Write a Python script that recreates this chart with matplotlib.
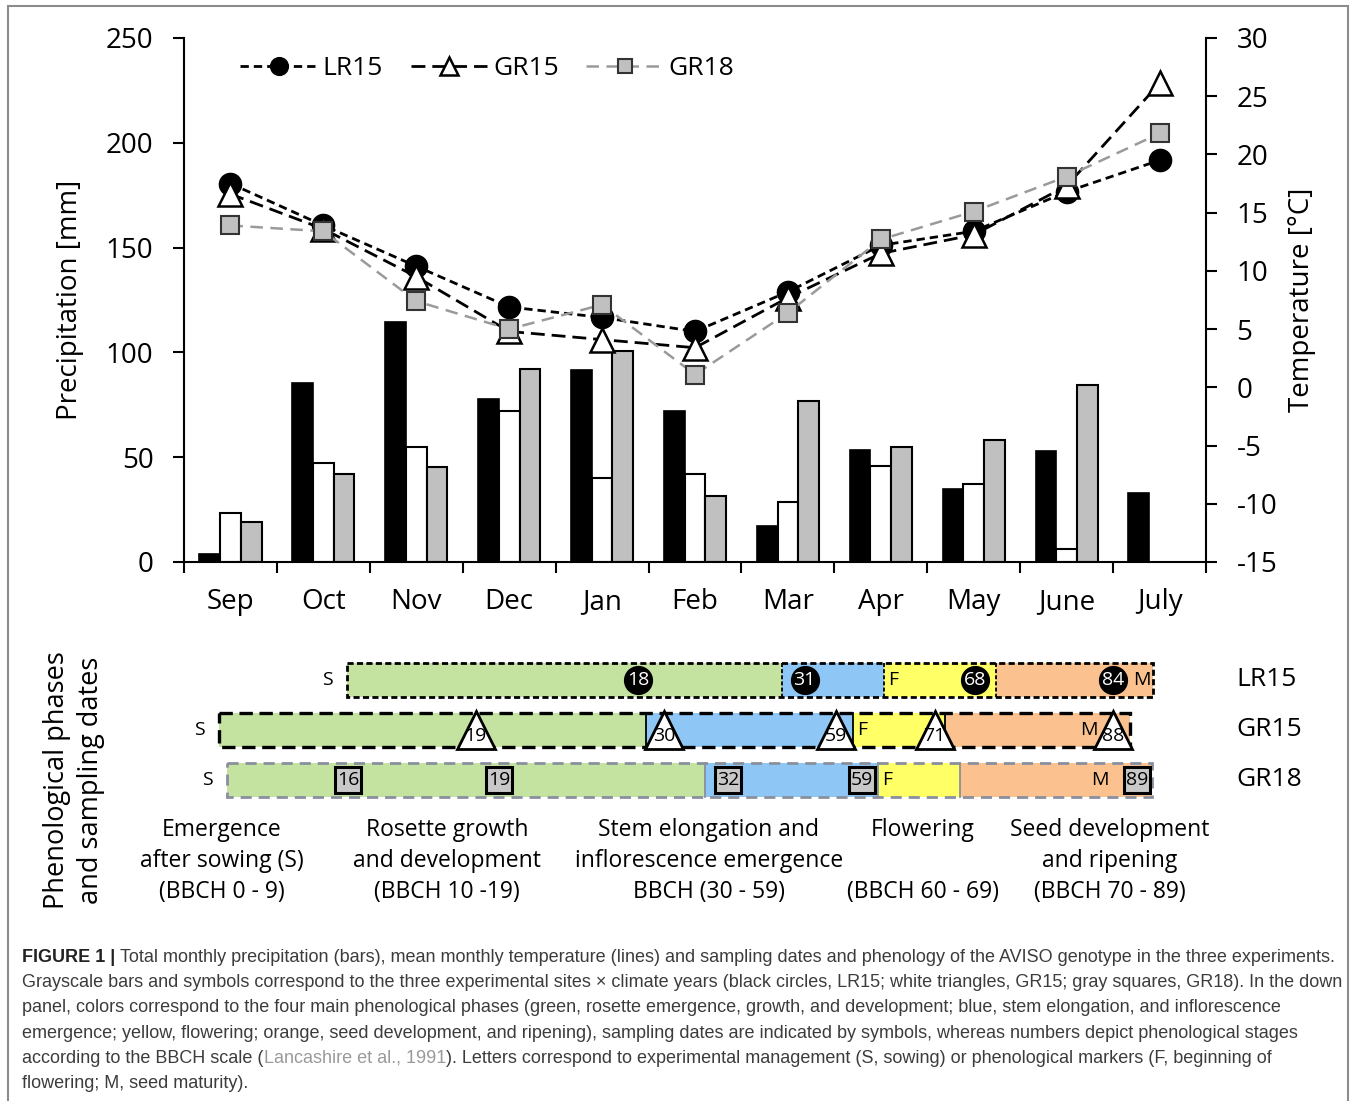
import numpy as np
import matplotlib.pyplot as plt
from matplotlib.patches import Rectangle

plt.rcParams['font.family'] = ['Open Sans', 'DejaVu Sans']
plt.rcParams['axes.unicode_minus'] = False

months = ['Sep', 'Oct', 'Nov', 'Dec', 'Jan', 'Feb', 'Mar', 'Apr', 'May', 'June', 'July']

# total monthly precipitation [mm]
prec_lr15 = [4, 85.5, 114.5, 78, 91.5, 72, 17, 53.5, 35, 53, 33]
prec_gr15 = [23.5, 47, 55, 72, 40, 42, 28.5, 46, 37, 6, np.nan]
prec_gr18 = [19, 42, 45.5, 92, 100.5, 31.5, 77, 55, 58, 84.5, np.nan]

# mean monthly temperature [°C]
temp_lr15 = [17.5, 13.9, 10.4, 6.9, 6.0, 4.8, 8.2, 12.2, 13.4, 16.8, 19.5]
temp_gr15 = [16.6, 13.6, 9.5, 4.8, 4.1, 3.4, 7.7, 11.5, 13.1, 17.3, 26.1]
temp_gr18 = [13.9, 13.4, 7.4, 5.0, 7.1, 1.1, 6.4, 12.7, 15.1, 18.1, 21.8]

# phenology, positions on the month axis
experiments = ['LR15', 'GR15', 'GR18']
# sowing, stem elongation, flowering, seed development, maturity
phase_lr15 = [1.255, 5.94, 7.03, 8.24, 9.93]
phase_gr15 = [-0.123, 4.47, 6.70, 7.69, 9.68]
phase_gr18 = [-0.037, 5.11, 6.97, 7.85, 9.92]
samples_lr15 = [4.39, 6.18, 8.01, 9.50]
samples_gr15 = [2.64, 4.67, 6.52, 7.58, 9.50]
samples_gr18 = [1.27, 2.89, 5.36, 6.80, 9.76]
bbch_lr15 = [18, 31, 68, 84]
bbch_gr15 = [19, 30, 59, 71, 88]
bbch_gr18 = [16, 19, 32, 59, 89]
maturity = [9.81, 9.24, 9.36]

phase_names = ['Emergence\nafter sowing (S)\n(BBCH 0 - 9)',
               'Rosette growth\nand development\n(BBCH 10 -19)',
               'Stem elongation and\ninflorescence emergence\nBBCH (30 - 59)',
               'Flowering\n\n(BBCH 60 - 69)',
               'Seed development\nand ripening\n(BBCH 70 - 89)']
phase_colors = ['#c4e3a1', '#8ec7f6', '#ffff66', '#fbc28f']

W, H = 1357, 1101


def fx(px):
    return px / W


def fy(py):
    return 1 - py / H


fig = plt.figure(figsize=(W / 100, H / 100), dpi=100)

# ---- climate panel ----
ax = fig.add_axes([fx(184), fy(562), fx(1206) - fx(184), fy(38) - fy(562)])
x = np.arange(len(months))
bw = 0.223
ax.bar(x - bw, prec_lr15, bw, color='black', edgecolor='black', lw=1.2, zorder=2)
ax.bar(x, prec_gr15, bw, color='white', edgecolor='black', lw=1.5, zorder=2)
ax.bar(x + bw, prec_gr18, bw, color='#c0c0c0', edgecolor='black', lw=1.5, zorder=2)

ax.set_xlim(-0.5, len(months) - 0.5)
ax.set_ylim(0, 250)
ax.set_yticks(range(0, 251, 50))
ax.set_xticks(np.arange(-0.5, len(months), 1.0))
ax.set_xticklabels([])
ax.set_xticks(x, minor=True)
ax.set_xticklabels(months, minor=True)
ax.tick_params(axis='x', which='major', direction='out', length=8, width=1.5)
ax.tick_params(axis='x', which='minor', length=0, pad=19, labelsize=20)
ax.tick_params(axis='y', direction='out', length=8, width=1.5, pad=14, labelsize=20)
ax.spines['top'].set_visible(False)
ax.spines['right'].set_visible(False)
for s in ['left', 'bottom']:
    ax.spines[s].set_linewidth(1.5)
ax.set_ylabel('Precipitation [mm]', fontsize=20, labelpad=16)

tx = ax.twinx()
tx.set_ylim(-15, 30)
tx.set_yticks(range(-15, 31, 5))
tx.tick_params(axis='y', direction='out', length=8, width=1.5, pad=14, labelsize=20)
for s in ['top', 'left', 'bottom']:
    tx.spines[s].set_visible(False)
tx.spines['right'].set_linewidth(1.5)
tx.set_ylabel('Temperature [°C]', fontsize=20, labelpad=8)

tx.plot(x, temp_lr15, color='black', lw=2, dashes=(3, 1.8), marker='o', ms=16,
        mfc='black', mec='black', label='LR15', zorder=3)
tx.plot(x, temp_gr15, color='black', lw=2, dashes=(5, 2.5), marker='^', ms=17,
        mfc='white', mec='black', mew=1.8, label='GR15', zorder=4)
tx.plot(x, temp_gr18, color='#9a9a9a', lw=1.8, dashes=(5, 3), marker='s', ms=13,
        mfc='#c0c0c0', mec='#333333', mew=1.5, label='GR18', zorder=5)
tx.legend(loc='upper left', bbox_to_anchor=(0.037, 1.0), ncol=3, frameon=False,
          fontsize=19, handlelength=2.9, handletextpad=0.22, columnspacing=1.05,
          borderaxespad=0.3, markerscale=0.8)

# ---- phenology panel ----
pax = fig.add_axes([fx(184), fy(820), fx(1206) - fx(184), fy(640) - fy(820)])
pax.set_xlim(-0.5, len(months) - 0.5)
pax.set_ylim(2.8, -0.8)
pax.axis('off')

phases = [phase_lr15, phase_gr15, phase_gr18]
samples = [samples_lr15, samples_gr15, samples_gr18]
stages = [bbch_lr15, bbch_gr15, bbch_gr18]
edge_colors = ['black', 'black', '#8a8f9e']
edge_dashes = [(2.2, 1.2), (4, 2), (4, 2.5)]
edge_widths = [2.0, 2.4, 2.0]
bh = 0.68

for row, name in enumerate(experiments):
    lim = phases[row]
    y0 = row - bh / 2
    for k in range(4):
        pax.add_patch(Rectangle((lim[k], y0), lim[k + 1] - lim[k], bh,
                                facecolor=phase_colors[k], edgecolor='none', zorder=1))
    for k in range(1, 4):
        pax.plot([lim[k], lim[k]], [y0, y0 + bh], color=edge_colors[row], lw=1.3,
                 dashes=edge_dashes[row] if row == 0 else (None, None), zorder=2)
    pax.add_patch(Rectangle((lim[0], y0), lim[4] - lim[0], bh, facecolor='none',
                            edgecolor=edge_colors[row], lw=edge_widths[row],
                            ls=(0, edge_dashes[row]), zorder=3))

    pax.annotate('S', (lim[0], row), xytext=(-10, 0), textcoords='offset points',
                 ha='right', va='center', fontsize=14)
    pax.annotate('F', (lim[2], row), xytext=(3, 0), textcoords='offset points',
                 ha='left', va='center', fontsize=14)
    pax.text(maturity[row], row, 'M', ha='center', va='center', fontsize=14, zorder=4)
    pax.text(len(months) - 0.17, row, name, ha='left', va='center', fontsize=19)

    for pos, st in zip(samples[row], stages[row]):
        if row == 0:
            pax.plot(pos, row, marker='o', ms=20, mfc='black', mec='black', zorder=5)
            pax.text(pos, row, str(st), color='white', ha='center', va='center',
                     fontsize=14, zorder=6)
        elif row == 1:
            pax.plot(pos, row, marker='^', ms=27, mfc='white', mec='black', mew=2,
                     zorder=5)
            pax.annotate(str(st), (pos, row), xytext=(0, -4), textcoords='offset points',
                         ha='center', va='center', fontsize=14, zorder=6)
        else:
            pax.plot(pos, row, marker='s', ms=19, mfc='#c8c8c8', mec='black', mew=2.2,
                     zorder=5)
            pax.text(pos, row, str(st), ha='center', va='center', fontsize=14, zorder=6)

for cx, lab in zip([222, 447, 709, 923, 1110], phase_names):
    fig.text(fx(cx), fy(818), lab, ha='center', va='top', fontsize=16.5, linespacing=1.4)

fig.text(fx(74), fy(780), 'Phenological phases\nand sampling dates', rotation=90,
         ha='center', va='center', fontsize=19.5, linespacing=1.25)

# ---- caption ----
renderer = fig.canvas.get_renderer()
cap_kw = dict(fontsize=12.95, family=['Liberation Sans', 'DejaVu Sans'], va='baseline')
cap_color = '#3c3c3c'


def caption_line(py, pieces):
    px = 22
    for s, kw in pieces:
        t = fig.text(fx(px), fy(py), s, color=kw.get('color', cap_color),
                     fontweight=kw.get('weight', 'normal'), **cap_kw)
        bb = t.get_window_extent(renderer)
        px = bb.x1 + kw.get('gap', 0)


lines = [
    [('FIGURE 1 |', dict(weight='bold', color='#222222', gap=5)),
     ('Total monthly precipitation (bars), mean monthly temperature (lines) and sampling dates '
      'and phenology of the AVISO genotype in the three experiments.', {})],
    [('Grayscale bars and symbols correspond to the three experimental sites \u00d7 climate years '
      '(black circles, LR15; white triangles, GR15; gray squares, GR18). In the down', {})],
    [('panel, colors correspond to the four main phenological phases (green, rosette emergence, '
      'growth, and development; blue, stem elongation, and inflorescence', {})],
    [('emergence; yellow, flowering; orange, seed development, and ripening), sampling dates are '
      'indicated by symbols, whereas numbers depict phenological stages', {})],
    [('according to the BBCH scale (', {}),
     ('Lancashire et al., 1991', dict(color='#9a9a9a')),
     ('). Letters correspond to experimental management (S, sowing) or phenological markers '
      '(F, beginning of', {})],
    [('flowering; M, seed maturity).', {})],
]
for i, pieces in enumerate(lines):
    caption_line(962 + i * 25.2, pieces)

fig.add_artist(Rectangle((fx(8), -0.01), fx(1348) - fx(8), fy(6) + 0.01,
                         transform=fig.transFigure, fill=False, edgecolor='#8c8c8c', lw=1.5))

fig.savefig('out.png', dpi=100)
